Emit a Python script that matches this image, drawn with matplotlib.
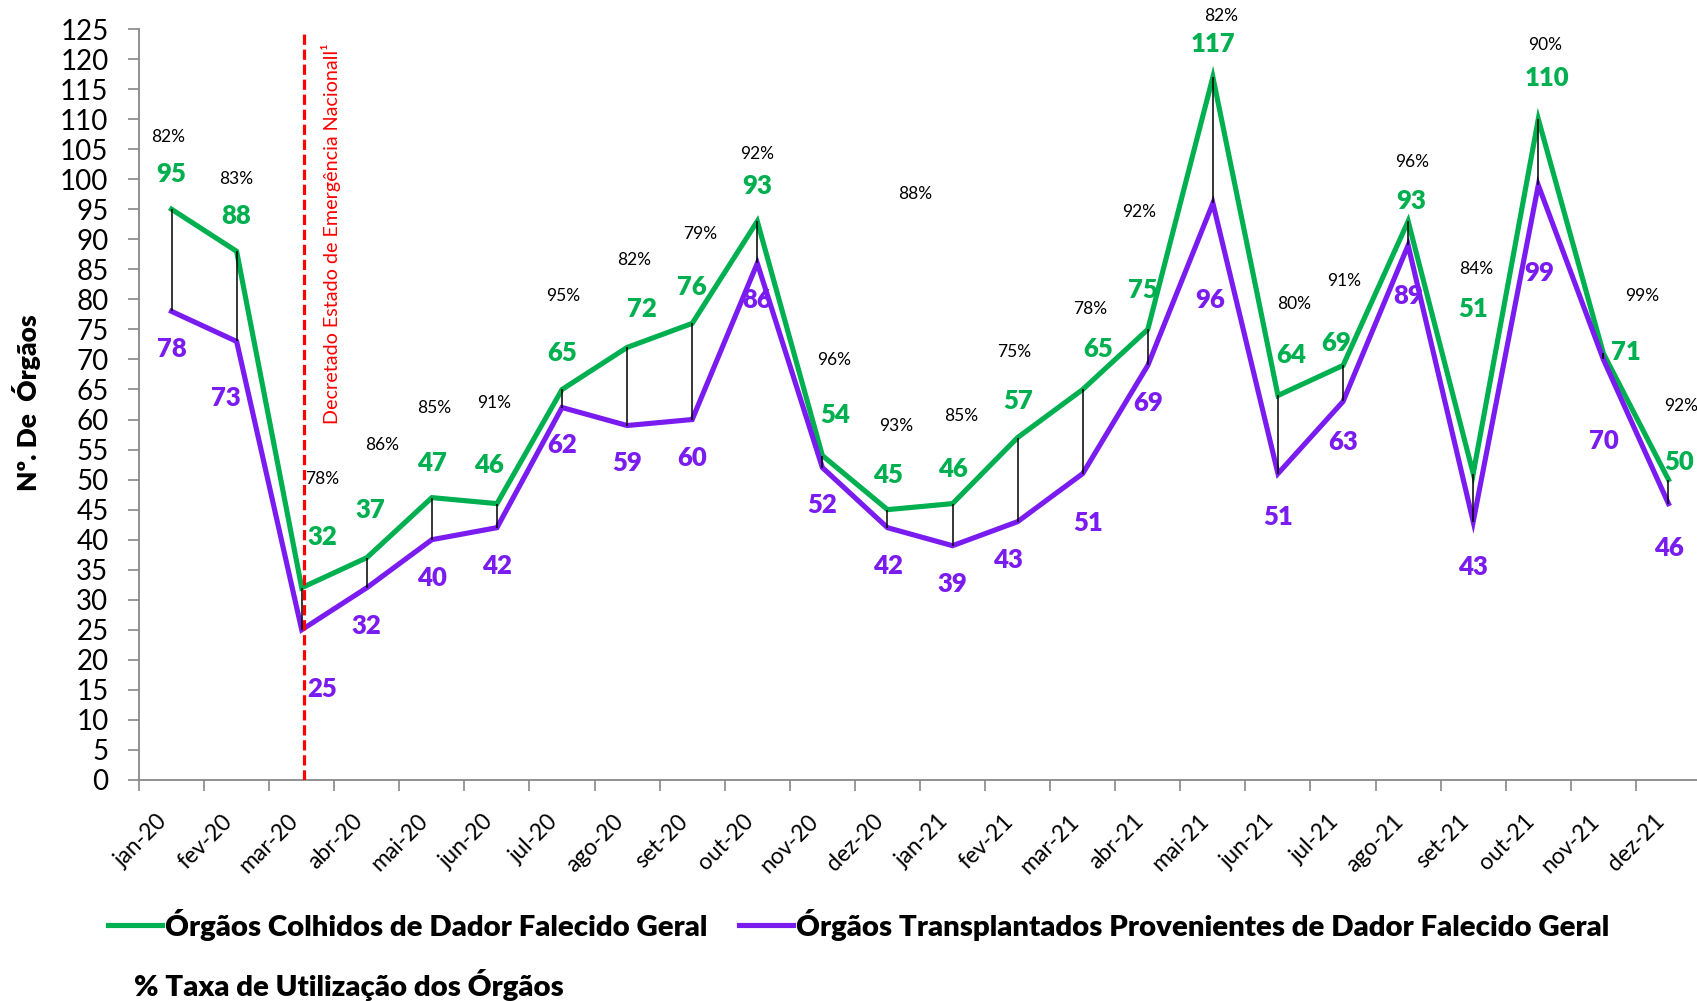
import matplotlib
matplotlib.use("Agg")
import matplotlib.pyplot as plt
from matplotlib.lines import Line2D

plt.rcParams['font.family'] = ['Lato', 'DejaVu Sans']

# ---------------- data ----------------
months = ["jan-20", "fev-20", "mar-20", "abr-20", "mai-20", "jun-20", "jul-20", "ago-20",
          "set-20", "out-20", "nov-20", "dez-20", "jan-21", "fev-21", "mar-21", "abr-21",
          "mai-21", "jun-21", "jul-21", "ago-21", "set-21", "out-21", "nov-21", "dez-21"]
colhidos = [95, 88, 32, 37, 47, 46, 65, 72, 76, 93, 54, 45,
            46, 57, 65, 75, 117, 64, 69, 93, 51, 110, 71, 50]
transplantados = [78, 73, 25, 32, 40, 42, 62, 59, 60, 86, 52, 42,
                  39, 43, 51, 69, 96, 51, 63, 89, 43, 99, 70, 46]
taxa = [82, 83, 78, 86, 85, 91, 95, 82, 79, 92, 96, 93,
        85, 75, 78, 92, 82, 80, 91, 96, 84, 90, 99, 92]
extra_taxa = 88  # stray % label shown between dez-20 and jan-21
yticks = list(range(0, 130, 5))

# ---------------- layout (label offsets, in data units) ----------------
g_off = [(0, 5.9), (0, 5.9), (0.32, 8.5), (0.06, 7.9), (0, 5.7), (-0.13, 6.4),
         (0, 6.0), (0.23, 6.4), (0, 6.0), (0, 5.8), (0.2, 6.8), (0, 5.8),
         (0, 5.8), (0, 6.0), (0.24, 6.8), (-0.08, 6.6), (0, 5.5), (0.21, 6.8),
         (-0.1, 3.8), (0.04, 3.3), (0, 27.4), (0.13, 6.8), (0.35, 0.3), (0.17, 3.0)]
p_off = [(0, -6.3), (-0.17, -9.4), (0.31, -9.9), (0, -6.3), (0, -6.3), (0, -6.3),
         (0, -6.2), (0, -6.3), (0, -6.4), (0, -6.1), (0, -6.3), (0, -6.3),
         (0, -6.4), (-0.15, -6.4), (0.08, -8.3), (0, -6.2), (-0.04, -16.1), (0, -7.2),
         (0, -6.7), (0, -8.5), (0, -7.6), (0.02, -14.6), (0.01, -13.6), (0, -7.4)]
t_off = [(-0.05, 12.1), (0, 12.0), (0.32, 18.1), (0.24, 18.8), (0.04, 14.9), (-0.04, 16.7),
         (0.02, 15.6), (0.11, 14.6), (0.13, 14.8), (0, 11.2), (0.18, 15.9), (0.13, 13.9),
         (0.14, 14.6), (-0.05, 14.2), (0.11, 13.4), (-0.13, 19.6), (0.13, 10.2), (0.25, 15.2),
         (0.01, 14.1), (0.06, 9.9), (0.05, 34.0), (0.1, 12.3), (0.59, 9.5), (0.2, 12.2)]

GREEN = "#00B050"
PURPLE = "#7A1CF0"
GREY = "#888888"

W, H = 1697, 1001
fig = plt.figure(figsize=(W / 100, H / 100), dpi=100)
ax = fig.add_axes([139 / W, 1 - 780 / H, 1562 / W, 751 / H])

x = list(range(len(months)))
ax.plot(x, colhidos, color=GREEN, lw=3.7, solid_joinstyle='miter', zorder=3)
ax.plot(x, transplantados, color=PURPLE, lw=3.7, solid_joinstyle='miter', zorder=4)
ax.vlines(x, transplantados, colhidos, color='black', lw=1.1, zorder=5)

LBL = 18.5
PCT = 12.5
for i in x:
    dx, dy = g_off[i]
    ax.text(i + dx, colhidos[i] + dy, str(colhidos[i]), color=GREEN, fontsize=LBL,
            fontweight='heavy', ha='center', va='center', zorder=6)
    dx, dy = p_off[i]
    ax.text(i + dx, transplantados[i] + dy, str(transplantados[i]), color=PURPLE, fontsize=LBL,
            fontweight='heavy', ha='center', va='center', zorder=6)
    dx, dy = t_off[i]
    ax.text(i + dx, colhidos[i] + dy, f"{taxa[i]}%", color='black', fontsize=PCT,
            ha='center', va='center', zorder=6)
ax.text(11.42, 97.6, f"{extra_taxa}%", color='black', fontsize=PCT, ha='center', va='center')

# state of emergency marker
ax.plot([2.04, 2.04], [0, 124.5], color='#FF0000', lw=2.3, ls=(0, (3.2, 1.5)), zorder=7)
ax.text(2.45, 91, "Decretado Estado de Emergência Nacionall¹", color='#FF0000', fontsize=14.2,
        rotation=90, ha='center', va='center')

ax.set_xlim(-0.5, len(months) - 0.5)
ax.set_ylim(0, 125)
ax.set_yticks(yticks)
ax.set_yticklabels([str(v) for v in yticks], fontsize=20)
ax.set_xticks(x)
ax.set_xticklabels(months, fontsize=16.5, rotation=45, ha='right', va='top')
ax.set_xticks([i - 0.5 for i in range(len(months) + 1)], minor=True)
ax.tick_params(axis='x', which='major', length=0, pad=22)
ax.tick_params(axis='x', which='minor', length=8, width=1.2, color=GREY, direction='out')
ax.tick_params(axis='y', length=8, width=1.2, color=GREY, direction='out', pad=14)

for s in ['top', 'right']:
    ax.spines[s].set_visible(False)
for s in ['left', 'bottom']:
    ax.spines[s].set_color(GREY)
    ax.spines[s].set_linewidth(1.3)

fig.text(27 / W, 1 - 403 / H, "Nº. De  Órgãos", rotation=90, fontsize=19, fontweight='heavy',
         ha='center', va='center')

# legend (manual)
LEG = 21.2
ly = 1 - 925 / H
fig.add_artist(Line2D([108 / W, 162 / W], [ly, ly], color=GREEN, lw=3.7))
fig.text(165 / W, ly, "Órgãos Colhidos de Dador Falecido Geral", fontsize=LEG, fontweight='heavy',
         ha='left', va='center')
fig.add_artist(Line2D([739 / W, 793 / W], [ly, ly], color=PURPLE, lw=3.7))
fig.text(796 / W, ly, "Órgãos Transplantados Provenientes de Dador Falecido Geral", fontsize=LEG,
         fontweight='heavy', ha='left', va='center')
fig.text(134 / W, 1 - 985 / H, "% Taxa de Utilização dos Órgãos", fontsize=LEG, fontweight='heavy',
         ha='left', va='center')

fig.savefig("out.png", dpi=100)
